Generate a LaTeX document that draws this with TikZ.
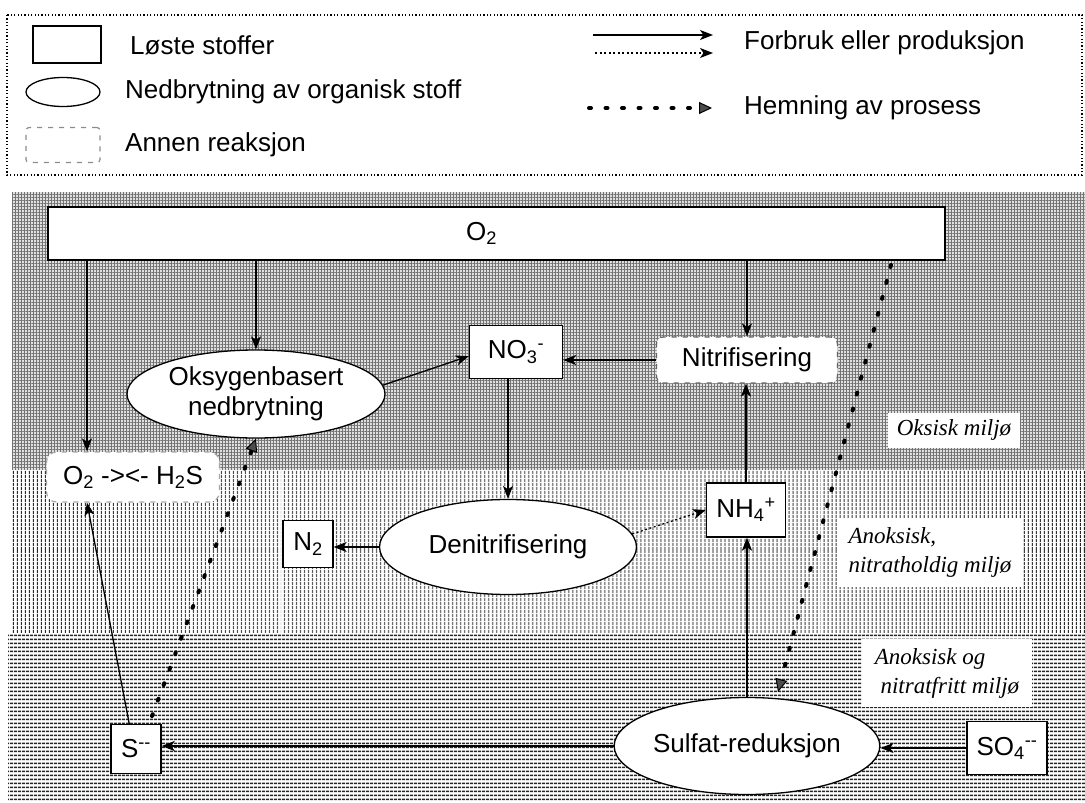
\documentclass[tikz,border=0pt]{standalone}
\usepackage{fontspec}
\setmainfont{Liberation Sans}
\newfontfamily\zonefont{Liberation Serif}
\usetikzlibrary{shapes.geometric,arrows.meta,patterns.meta}
\tikzset{
 base/.style={font=\fontsize{26}{30}\selectfont, text=black},
 solute/.style={base, draw=black, line width=1.3pt, fill=white, rectangle, inner sep=2pt},
 proc/.style={base, draw=black, line width=1.3pt, fill=white, ellipse, inner sep=0pt, align=center},
 other/.style={base, draw=black!60, line width=1.2pt, dash pattern=on 5pt off 6pt, fill=white, rectangle, rounded corners=7pt, inner sep=2pt},
 lbl/.style={base, inner sep=0pt, anchor=west},
 region/.style={fill=white, inner sep=0pt, align=left, font={\zonefont\itshape\fontsize{23}{29}\selectfont}},
 flow/.style={line width=1.3pt, -{Stealth[length=13pt,width=10pt,inset=3.5pt]}},
 flowthick/.style={flow, line width=2.2pt},
 flowdot/.style={line width=1.3pt, dash pattern=on 2pt off 2.5pt, -{Stealth[length=13pt,width=10pt,inset=3.5pt]}},
 inhib/.style={line width=4pt, line cap=round, dash pattern=on 2pt off 14.5pt, -{Triangle[length=13pt,width=12pt,line width=1pt,fill=black!70]}},
 border/.style={line width=1.1pt, dash pattern=on 1.2pt off 2.2pt},
}
\begin{document}
\begin{tikzpicture}[x=1pt,y=-1pt]
\useasboundingbox (0,0) rectangle (1085,803);
% ---------- legend ----------
\draw[border] (7,15) rectangle (1082,175);
\node[solute, minimum width=68, minimum height=37] (lrect) at (67,44.5) {};
\node[lbl] (ltxt1) at (130,45) {Løste stoffer};
\node[proc, minimum width=74, minimum height=29] (lell) at (63,92) {};
\node[lbl] (ltxt2) at (125,92) {Nedbrytning av organisk stoff};
\node[other, draw=black!45, minimum width=74, minimum height=35, rounded corners=3pt] (ldash) at (63,145) {};
\node[lbl] (ltxt3) at (125,145) {Annen reaksjon};
\coordinate (la1) at (593,35); \coordinate (la2) at (713,35);
\coordinate (lb1) at (595,53); \coordinate (lb2) at (713,53);
\coordinate (lc1) at (589,108); \coordinate (lc2) at (712,108);
\draw[flow] (la1) -- (la2);
\draw[flowdot] (lb1) -- (lb2);
\draw[inhib] (lc1) -- (lc2);
\node[lbl] (ltxt4) at (744,43) {Forbruk eller produksjon};
\node[lbl] (ltxt5) at (744,108) {Hemning av prosess};
% ---------- background zones ----------
\fill[black!12] (12,192) rectangle (1085,470);
\path[pattern={Lines[angle=0,distance=3pt,line width=0.6pt]}, pattern color=black!55] (12,192) rectangle (1085,470);
\path[pattern={Lines[angle=90,distance=3pt,line width=0.6pt]}, pattern color=black!55] (12,192) rectangle (1085,470);
\fill[white] (12,470) rectangle (1085,633);
\path[pattern={Lines[angle=90,distance=4pt,line width=1.5pt]}, pattern color=black!85] (12,470) rectangle (1085,633);
\fill[white] (8,633) rectangle (1085,800);
\path[pattern={Lines[angle=0,distance=4pt,line width=1.6pt]}, pattern color=black!85] (8,633) rectangle (1085,800);
% ---------- zone labels ----------
\node[region, minimum width=132, minimum height=35] (zox) at (954,430) {Oksisk miljø};
\node[region, minimum width=185, minimum height=69] (zan1) at (930,552) {Anoksisk,\\nitratholdig miljø};
\node[region, minimum width=170, minimum height=68] (zan2) at (947,673) {Anoksisk og\\\ nitratfritt miljø};
% ---------- nodes ----------
\node[solute, minimum width=897, minimum height=53] (o2) at (496.5,233.5) {O\textsubscript{2}\hspace*{30pt}};
\node[proc, minimum width=258, minimum height=88] (oks) at (256,394) {Oksygenbasert\\nedbrytning};
\node[solute, minimum width=93, minimum height=53] (no3) at (516,352) {NO\textsubscript{3}\textsuperscript{-}};
\node[other, minimum width=181, minimum height=46] (nit) at (747,360) {Nitrifisering};
\node[other, draw=black!35, minimum width=173, minimum height=50, rounded corners=10pt] (oh) at (133,477) {O\textsubscript{2} -><- H\textsubscript{2}S};
\node[proc, minimum width=257, minimum height=95] (den) at (508,547) {Denitrifisering};
\node[solute, minimum width=50, minimum height=47] (n2) at (308,544) {N\textsubscript{2}};
\node[solute, minimum width=79, minimum height=54] (nh4) at (746,510) {NH\textsubscript{4}\textsuperscript{+}};
\node[proc, minimum width=235, minimum height=97] (sul) at (747,746) {Sulfat-reduksjon};
\node[solute, minimum width=80, minimum height=53] (so4) at (1007,748) {SO\textsubscript{4}\textsuperscript{{-}{-}}};
\node[solute, minimum width=50, minimum height=49] (s) at (136,749) {S\textsuperscript{{-}{-}}};
\coordinate (c1) at (87,0);
\coordinate (i1s) at (152,716);
\coordinate (i2s) at (891,265);
\coordinate (i2e) at (778,692);
% ---------- connectors ----------
\draw[flow] (o2.south -| c1) -- (oh.north -| c1);
\draw[flow] (o2.south -| oks.north) -- (oks.north);
\draw[flow] (o2.south -| nit.north) -- (nit.north);
\draw[flow] (oks.4) -- (no3.185);
\draw[flow] (nit.west) -- (nit.west -| no3.east);
\draw[flow] (no3.south -| den.north) -- (den.north);
\draw[flow] (den.west) -- (den.west -| n2.east);
\draw[flowdot] (den.6) -- (nh4.west);
\draw[flow] (nh4.north) -- (nh4.north |- nit.south);
\draw[flowthick] (sul.north) -- (sul.north |- nh4.south);
\draw[flow] (so4.west) -- (so4.west -| sul.east);
\draw[flowthick] (sul.west) -- (sul.west -| s.east);
\draw[flow] (s.105) -- (oh.south -| c1);
\draw[inhib] (i1s) -- (oks.south);
\draw[inhib] (i2s) -- (i2e);
\end{tikzpicture}
\end{document}
